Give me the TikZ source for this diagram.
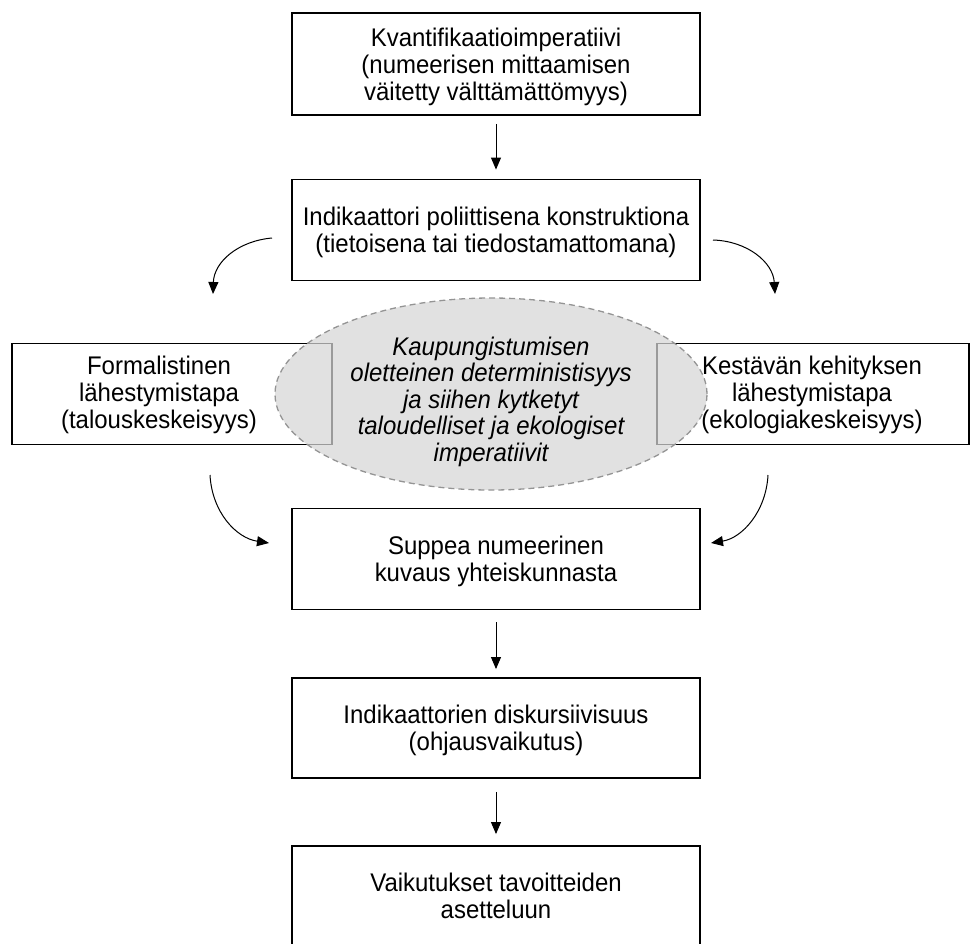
\documentclass[tikz,border=0pt]{standalone}
\usepackage{fontspec}
\setmainfont{Liberation Sans}[FakeStretch=0.94]
\usetikzlibrary{arrows.meta,shapes.geometric}
\begin{document}
\begin{tikzpicture}[x=1pt,y=-1pt,
  txt/.style={font=\fontsize{25.5}{27}\selectfont},
  box/.style={draw=black,line width=1.9pt,rectangle,minimum width=408pt,align=center,
    txt,inner sep=0pt,text depth=0pt},
  lbl/.style={align=center,txt,inner sep=0pt,text depth=0pt},
  arr/.style={-{Triangle[length=12pt,width=10pt]},line width=1pt},
  ell/.style={ellipse,draw=black!42,dash pattern=on 6pt off 4pt,line width=1.3pt,
    fill=black!16,fill opacity=0.72,text opacity=1,inner sep=0pt,
    minimum width=432pt,minimum height=192pt,align=center,text depth=0pt,
    font=\fontsize{25.5}{26.6}\selectfont\itshape}
]
\useasboundingbox (0,0) rectangle (971,943);
% main boxes
\node[box,minimum height=102pt] (B1) at (496,64) {Kvantifikaatioimperatiivi\\(numeerisen mittaamisen\\väitetty välttämättömyys)};
\node[box,minimum height=101pt] (B2) at (496,230) {Indikaattori poliittisena konstruktiona\\(tietoisena tai tiedostamattomana)};
\node[box,minimum height=101pt] (B3) at (496,559) {Suppea numeerinen\\kuvaus yhteiskunnasta};
\node[box,minimum height=100pt] (B4) at (496,728) {Indikaattorien diskursiivisuus\\(ohjausvaikutus)};
\node[box,minimum height=110pt] (B5) at (496,901) {};
\node[lbl] (B5t) at (496,896) {Vaikutukset tavoitteiden\\asetteluun};
% side boxes
\node[box,minimum width=320pt,minimum height=101pt] (L) at (172,394) {};
\node[lbl] (Lt) at (159,392) {Formalistinen\\lähestymistapa\\(talouskeskeisyys)};
\node[box,minimum width=312pt,minimum height=101pt] (R) at (813,394) {};
\node[lbl] (Rt) at (812,392) {Kestävän kehityksen\\lähestymistapa\\(ekologiakeskeisyys)};
% ellipse
\node[ell] (E) at (491,394) {};
\node[lbl,font=\fontsize{25.5}{26.6}\selectfont\itshape] (Et) at (491,399) {Kaupungistumisen\\oletteinen deterministisyys\\ja siihen kytketyt\\taloudelliset ja ekologiset\\imperatiivit};
% straight arrows
\draw[arr,shorten <=8pt,shorten >=9pt] (B1.south) -- (B2.north);
\draw[arr,shorten <=12pt,shorten >=8pt] (B3.south) -- (B4.north);
\draw[arr,shorten <=13pt,shorten >=11pt] (B4.south) -- (B5.north);
% curved arrows
\coordinate (a1s) at (272,238);
\coordinate (a1e) at (213,294);
\coordinate (a2s) at (713,240);
\coordinate (a2e) at (775,294);
\coordinate (a3s) at (210,475);
\coordinate (a3e) at (269,543);
\coordinate (a4s) at (768,475);
\coordinate (a4e) at (711,543);
\draw[arr] (a1s) .. controls (238,241) and (214,262) .. (a1e);
\draw[arr] (a2s) .. controls (747,241) and (773,262) .. (a2e);
\draw[arr] (a3s) .. controls (212,512) and (236,538) .. (a3e);
\draw[arr] (a4s) .. controls (766,512) and (742,538) .. (a4e);
\end{tikzpicture}
\end{document}
